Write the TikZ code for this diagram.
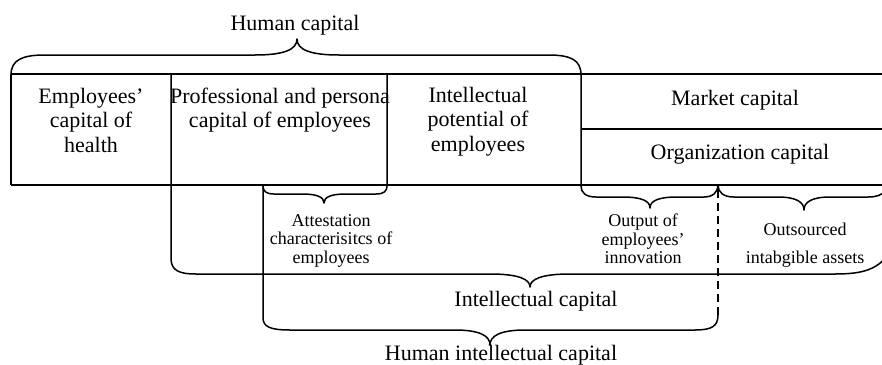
\documentclass[tikz,border=0pt]{standalone}
\usepackage{fontspec}
\setmainfont{Liberation Serif}
\begin{document}
\begin{tikzpicture}[x=1pt,y=-1pt,
  line/.style={line width=1.3pt},
  brace/.style={line width=1.5pt, line cap=round, line join=round},
  big/.style={font=\fontsize{22}{24.5}\selectfont, inner sep=0pt, align=center},
  small/.style={font=\fontsize{18}{18.3}\selectfont, inner sep=0pt, align=center}]
\useasboundingbox (0,0) rectangle (882,364);
\fill[white] (0,0) rectangle (882,364);
\clip (0,0) rectangle (882,364);
% box frame
\draw[line] (11,74) -- (882,74);
\draw[line] (11,185) -- (882,185);
\draw[line] (11,74) -- (11,185);
\draw[line] (581,129) -- (882,129);
% Human capital brace
\draw[brace] (11,75) .. controls (11,60) and (22,55) .. (45,55) -- (255,55) .. controls (283,55) and (297,50) .. (297,39) .. controls (297,50) and (311,55) .. (339,55) -- (548,55) .. controls (571,55) and (581,60) .. (581,75);
% Intellectual capital brace
\draw[brace] (171,74) -- (171,258) .. controls (171,270) and (178,274) .. (196,274) -- (490,274) .. controls (518,274) and (530,279) .. (530,287) .. controls (530,279) and (542,274) .. (570,274) -- (835,274) .. controls (862,274) and (878,270) .. (890,252);
% Attestation brace
\draw[brace] (387,74) -- (387,186) .. controls (387,191) and (384,194) .. (376,194) -- (346,194) .. controls (331,194) and (324,197) .. (324,203) .. controls (324,197) and (317,194) .. (302,194) -- (274,194) .. controls (266,194) and (263,191) .. (263,186);
% Human intellectual capital brace
\draw[brace] (263,185) -- (263,318) .. controls (263,327) and (271,330) .. (290,330) -- (455,330) .. controls (480,330) and (490,336) .. (490,345) .. controls (490,336) and (500,330) .. (525,330) -- (695,330) .. controls (712,330) and (718,326) .. (718,315);
\draw[line, dash pattern=on 8pt off 5pt] (718,315) -- (718,187);
% Output brace
\draw[brace] (581,74) -- (581,186) .. controls (581,193) and (586,197) .. (596,197) -- (622,197) .. controls (642,197) and (650,201) .. (650,208) .. controls (650,201) and (658,197) .. (677,197) -- (704,197) .. controls (713,197) and (718,192) .. (718,185);
% Outsourced brace
\draw[brace] (718,185) .. controls (718,192) and (723,197) .. (734,197) -- (778,197) .. controls (796,197) and (804,202) .. (804,210) .. controls (804,202) and (812,197) .. (830,197) -- (868,197) .. controls (877,197) and (882,195) .. (886,190);
% texts
\node[big, anchor=base] (hc) at (295,30) {Human capital};
\node[big] (health) at (91,120) {Employees’\\capital of\\health};
\node[big] (prof) at (280,110) {Professional and persona\\capital of employees};
\node[big] (intpot) at (478,121.5) {Intellectual\\potential of\\employees};
\node[big, anchor=base] (market) at (735,105) {Market capital};
\node[big, anchor=base] (org) at (740,159) {Organization capital};
\node[small] (attest) at (331,240.8) {Attestation\\characterisitcs of\\employees};
\node[small] (output) at (643,239) {Output of\\employees’\\innovation};
\node[small, font=\fontsize{18}{28}\selectfont] (outs) at (805,245) {Outsourced\\intabgible assets};
\node[big, anchor=base] (ic) at (536,306.5) {Intellectual capital};
\node[big, anchor=base] (hic) at (501,360) {Human intellectual capital};
\end{tikzpicture}
\end{document}
